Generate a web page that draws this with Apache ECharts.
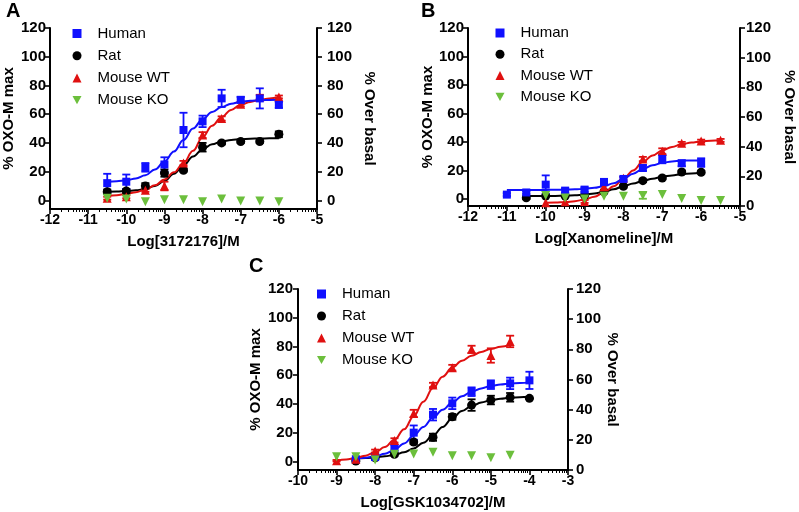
<!DOCTYPE html>
<html><head><meta charset="utf-8">
<script src="https://cdn.jsdelivr.net/npm/echarts@6/dist/echarts.min.js"></script>
<style>html,body{margin:0;padding:0;background:#fff}#c{width:799px;height:512px}</style>
</head><body><div id="c"></div>
<script>
// ---------- DATA ----------
const legendNames = ['Human', 'Rat', 'Mouse WT', 'Mouse KO'];
const yTickLabels = [0, 20, 40, 60, 80, 100, 120];

// Panel A : Log[3172176]/M
const A_x = [-10.5, -10, -9.5, -9, -8.5, -8, -7.5, -7, -6.5, -6];
const A_human = [12, 13, 23, 25, 49, 55, 71, 70, 71, 66.5];
const A_humanErr = [6.5, 5, 3, 5, 12, 4, 6, 2, 7, 2];
const A_rat = [6, 6.5, 10, 19, 21, 37, 40, 41, 41, 46];
const A_ratErr = [1.5, 1.5, 2, 2.5, 1, 3, 1, 1, 1, 2];
const A_wt = [1.5, 2.5, 7, 10, 26, 45.5, 57, 67, 72, 72];
const A_wtErr = [1, 1, 1, 3, 1.5, 2, 1.5, 1.5, 1.5, 1];
const A_ko = [1.5, 1, -1, 0.5, 0.5, -1, 1, -0.5, -0.5, -1];
const A_fitX = [-10.5, -10.25, -10, -9.75, -9.5, -9.25, -9, -8.75, -8.5, -8.25, -8, -7.75, -7.5, -7.25, -7, -6.75, -6.5, -6.25, -6];
const A_fitHuman = [13, 13.4, 14, 15.3, 17.5, 21.5, 27, 34, 42, 50, 56.5, 61.5, 65, 67.3, 68.6, 69.3, 69.7, 69.9, 70];
const A_fitRat = [6, 6.2, 6.5, 7, 8, 10, 13.5, 18.5, 24.5, 30.5, 35.5, 39, 41, 42.1, 42.6, 42.9, 43.1, 43.2, 43.3];
const A_fitWt = [3, 3.6, 4.5, 5.7, 7.5, 10.5, 14.5, 19.5, 26, 34.5, 44, 52, 58, 63, 66.5, 68.5, 70, 71, 72];

// Panel B : Log[Xanomeline]/M
const B_humanX = [-11, -10.5, -10, -9.5, -9, -8.5, -8, -7.5, -7, -6.5, -6];
const B_human = [3, 4.5, 10, 5.8, 6.5, 11.9, 14, 21.7, 28, 25, 25.5];
const B_humanErr = [1, 1, 6.5, 1.5, 1.5, 2, 1.5, 2, 3, 2, 3];
const B_ratX = [-10.5, -10, -9.5, -9, -8.5, -8, -7.5, -7, -6.5, -6];
const B_rat = [0.8, 2, 2, 2.5, 5, 8.9, 12.8, 14.7, 18.9, 18.7];
const B_ratErr = [1, 0, 0, 0, 1, 1, 1, 1, 1, 1];
const B_wtX = [-10, -9.5, -9, -8.5, -8, -7.5, -7, -6.5, -6, -5.5];
const B_wt = [-2.8, -2, -1.8, 8.5, 14.5, 28, 33.5, 39, 40.6, 41.1];
const B_wtErr = [0, 0, 1, 3, 1, 1.5, 2, 1, 1, 1];
const B_koX = [-10, -9.5, -9, -8.5, -8, -7.5, -7, -6.5, -6, -5.5];
const B_ko = [2.3, 0.7, 0, 1.8, 1.8, 2.3, 3, 0.2, -1.2, -1.2];
const B_koErr = [0, 0, 0, 0, 0, 2.2, 0, 0, 0, 0];
const B_fitHumanX = [-11, -10.75, -10.5, -10.25, -10, -9.75, -9.5, -9.25, -9, -8.75, -8.5, -8.25, -8, -7.75, -7.5, -7.25, -7, -6.75, -6.5, -6.25, -6];
const B_fitHuman = [6.2, 6.2, 6.2, 6.2, 6.3, 6.4, 6.5, 6.7, 7, 7.8, 9, 11, 14, 17.7, 21, 23.6, 25.3, 26.3, 26.8, 27, 27];
const B_fitRatX = [-10.5, -10.25, -10, -9.75, -9.5, -9.25, -9, -8.75, -8.5, -8.25, -8, -7.75, -7.5, -7.25, -7, -6.75, -6.5, -6.25, -6];
const B_fitRat = [2, 2, 2.05, 2.1, 2.3, 2.6, 3, 3.8, 5, 6.8, 8.8, 10.8, 12.6, 14.2, 15.5, 16.5, 17.3, 17.9, 18.3];
const B_fitWtX = [-10, -9.75, -9.5, -9.25, -9, -8.75, -8.5, -8.25, -8, -7.75, -7.5, -7.25, -7, -6.75, -6.5, -6.25, -6, -5.75, -5.5];
const B_fitWt = [-2.8, -2.6, -2.3, -1.6, -0.5, 1.5, 4.5, 8.8, 14, 20, 26, 30.5, 34, 36.5, 38.3, 39.6, 40.4, 40.9, 41.2];

// Panel C : Log[GSK1034702]/M
const C_humanX = [-8.5, -8, -7.5, -7, -6.5, -6, -5.5, -5, -4.5, -4];
const C_human = [1.5, 3, 9.5, 20, 32.5, 40.4, 48.5, 53.4, 54.3, 56.4];
const C_humanErr = [1, 1, 2, 5, 4, 4, 3, 3, 4, 6];
const C_ratX = [-8.5, -8, -7.5, -7, -6.5, -6, -5.5, -5, -4.5, -4];
const C_rat = [0.2, 2.5, 5, 13.5, 16.8, 31, 39.2, 42.7, 44.6, 43.9];
const C_ratErr = [1, 1, 1, 1.5, 2.5, 2, 4, 3, 3, 0.5];
const C_wtX = [-9, -8.5, -8, -7.5, -7, -6.5, -6, -5.5, -5, -4.5];
const C_wt = [0.5, 1.4, 7.2, 14.6, 33.4, 53.2, 65.2, 78, 73.7, 83.5];
const C_wtErr = [0.5, 1, 1, 1.5, 2.5, 1.5, 2, 2.5, 5, 4];
const C_koX = [-9, -8.5, -8, -7.5, -7, -6.5, -6, -5.5, -5, -4.5];
const C_ko = [3.3, 3.3, 1, 4.9, 5.1, 6.3, 4, 4, 2.5, 4.2];
const C_fitWtX = [-9, -8.75, -8.5, -8.25, -8, -7.75, -7.5, -7.25, -7, -6.75, -6.5, -6.25, -6, -5.75, -5.5, -5.25, -5, -4.75, -4.5];
const C_fitWt = [0.5, 1.3, 2.4, 4, 6.3, 10, 15, 22.3, 31.5, 41.5, 51, 59, 65.3, 70, 73.5, 76.2, 78.3, 79.8, 81];
const C_fitX = [-8.5, -8.25, -8, -7.75, -7.5, -7.25, -7, -6.75, -6.5, -6.25, -6, -5.75, -5.5, -5.25, -5, -4.75, -4.5, -4.25, -4];
const C_fitHuman = [1.8, 2.5, 3.5, 5.3, 8, 12.5, 18, 24, 30.5, 36, 41, 45.3, 48.5, 50.8, 52.5, 53.5, 54.2, 54.6, 55];
const C_fitRat = [2, 2.3, 2.8, 3.5, 4.5, 6.3, 9, 13, 18, 24, 30, 35, 38.5, 41, 42.5, 43.6, 44.3, 44.7, 45];

// ---------- STYLE ----------
const FONT = 'Liberation Sans, Arial, Helvetica, sans-serif';
const COL = { 'Human': '#1010ff', 'Rat': '#000000', 'Mouse WT': '#e01010', 'Mouse KO': '#6cbf3c' };
const SYM = { 'Human': ['rect', 8, 0], 'Rat': ['circle', 9, 0], 'Mouse WT': ['triangle', 9, 0], 'Mouse KO': ['triangle', 9, 180] };

const zip = (xs, ys) => xs.map((x, i) => [x, ys[i]]);
const zip3 = (xs, ys, es) => xs.map((x, i) => [x, ys[i], es[i]]).filter(d => d[2] > 0);

function minorTicks(min, max) {
  const out = [];
  for (let n = min; n < max; n++) for (let k = 2; k <= 9; k++) out.push(n + Math.log10(k));
  return out;
}

const panels = [
  { label: 'A', labelPos: [6, 1], grid: { left: 49, top: 28, width: 268, height: 181 },
    xMin: -12, xMax: -5, yLeftMin: -6, yRightMin: -6, xName: 'Log[3172176]/M',
    leftGap: 34, rightGap: 45, leftMargin: 4, rightMargin: 10, legendPos: [72.5, 26], legendGap: 7.2,
    sets: [
      { name: 'Rat', x: A_x, y: A_rat, err: A_ratErr, fx: A_fitX, fy: A_fitRat },
      { name: 'Mouse WT', x: A_x, y: A_wt, err: A_wtErr, fx: A_fitX, fy: A_fitWt },
      { name: 'Human', x: A_x, y: A_human, err: A_humanErr, fx: A_fitX, fy: A_fitHuman },
      { name: 'Mouse KO', x: A_x, y: A_ko }
    ] },
  { label: 'B', labelPos: [421, 1], grid: { left: 468, top: 28, width: 272, height: 178 },
    xMin: -12, xMax: -5, yLeftMin: -5, yRightMin: 0, xName: 'Log[Xanomeline]/M',
    leftGap: 31, rightGap: 42, leftMargin: 4, rightMargin: 6, legendPos: [495.5, 25.5], legendGap: 6.3,
    sets: [
      { name: 'Rat', x: B_ratX, y: B_rat, err: B_ratErr, fx: B_fitRatX, fy: B_fitRat },
      { name: 'Mouse WT', x: B_wtX, y: B_wt, err: B_wtErr, fx: B_fitWtX, fy: B_fitWt },
      { name: 'Human', x: B_humanX, y: B_human, err: B_humanErr, fx: B_fitHumanX, fy: B_fitHuman },
      { name: 'Mouse KO', x: B_koX, y: B_ko, err: B_koErr }
    ] },
  { label: 'C', labelPos: [249, 256], grid: { left: 298, top: 289, width: 270, height: 181 },
    xMin: -10, xMax: -3, yLeftMin: -6, yRightMin: 0, xName: 'Log[GSK1034702]/M',
    leftGap: 35, rightGap: 36, leftMargin: 5, rightMargin: 8, legendPos: [317, 286.5], legendGap: 7,
    sets: [
      { name: 'Rat', x: C_ratX, y: C_rat, err: C_ratErr, fx: C_fitX, fy: C_fitRat },
      { name: 'Human', x: C_humanX, y: C_human, err: C_humanErr, fx: C_fitX, fy: C_fitHuman },
      { name: 'Mouse WT', x: C_wtX, y: C_wt, err: C_wtErr, fx: C_fitWtX, fy: C_fitWt },
      { name: 'Mouse KO', x: C_koX, y: C_ko }
    ] }
];

// ---------- OPTION ----------
const option = { animation: false, backgroundColor: '#fff', textStyle: { fontFamily: FONT },
  title: [], grid: [], xAxis: [], yAxis: [], legend: [], series: [] };

const axisLineStyle = { color: '#000', width: 2 };
const tickStyle = { color: '#000', width: 1.6 };
const xLabelStyle = { color: '#000', fontSize: 14, fontWeight: 'bold', fontFamily: FONT };
const yLabelStyle = { color: '#000', fontSize: 15, fontWeight: 'bold', fontFamily: FONT };
const nameStyle = { color: '#000', fontSize: 15, fontWeight: 'bold', fontFamily: FONT };

panels.forEach((p, i) => {
  option.title.push({ text: p.label, left: p.labelPos[0], top: p.labelPos[1], padding: 0,
    textStyle: { fontSize: 20, fontWeight: 'bold', color: '#000', fontFamily: FONT } });
  option.grid.push(Object.assign({ containLabel: false }, p.grid));
  option.xAxis.push({ gridIndex: i, type: 'value', position: 'bottom', min: p.xMin, max: p.xMax, interval: 1,
    name: p.xName, nameLocation: 'middle', nameGap: 25, nameTextStyle: nameStyle,
    axisLine: { show: true, onZero: false, lineStyle: axisLineStyle },
    axisTick: { show: true, inside: false, length: 5, lineStyle: tickStyle },
    axisLabel: { show: true, margin: 4, ...xLabelStyle }, splitLine: { show: false } });
  option.xAxis.push({ gridIndex: i, type: 'value', position: 'bottom', min: p.xMin, max: p.xMax,
    axisLine: { show: false, onZero: false }, axisLabel: { show: false }, splitLine: { show: false },
    axisTick: { show: true, inside: false, length: 3, customValues: minorTicks(p.xMin, p.xMax), lineStyle: { color: '#000', width: 1 } } });
  option.yAxis.push({ gridIndex: i, type: 'value', position: 'left', min: p.yLeftMin, max: 120,
    name: '% OXO-M max', nameLocation: 'middle', nameGap: p.leftGap, nameRotate: 90, nameTextStyle: nameStyle,
    axisLine: { show: true, onZero: false, lineStyle: axisLineStyle },
    axisTick: { show: true, inside: false, length: 5, customValues: yTickLabels, lineStyle: tickStyle },
    axisLabel: { show: true, margin: p.leftMargin, customValues: yTickLabels, ...yLabelStyle }, splitLine: { show: false } });
  option.yAxis.push({ gridIndex: i, type: 'value', position: 'right', min: p.yRightMin, max: 120,
    name: '% Over basal', nameLocation: 'middle', nameGap: p.rightGap, nameRotate: -90, nameTextStyle: nameStyle,
    axisLine: { show: true, onZero: false, lineStyle: axisLineStyle },
    axisTick: { show: true, inside: false, length: 5, customValues: yTickLabels, lineStyle: tickStyle },
    axisLabel: { show: true, margin: p.rightMargin, customValues: yTickLabels, ...yLabelStyle }, splitLine: { show: false } });

  option.legend.push({ orient: 'vertical', left: p.legendPos[0], top: p.legendPos[1], padding: 0,
    itemWidth: 9, itemHeight: 9, itemGap: p.legendGap, selectedMode: false,
    textStyle: { fontSize: 15, color: '#000', fontFamily: FONT, lineHeight: 15, padding: [0, 0, 0, 11] },
    data: [
      { name: 'Human', icon: 'rect' },
      { name: 'Rat', icon: 'circle' },
      { name: 'Mouse WT', icon: 'triangle' },
      { name: 'Mouse KO', icon: 'path://M0,0L10,0L5,9Z' }
    ] });

  const xi = 2 * i, yi = 2 * i;
  p.sets.forEach(s => {
    const c = COL[s.name];
    if (s.fx) {
      option.series.push({ type: 'line', name: s.name + ' fit', xAxisIndex: xi, yAxisIndex: yi,
        data: zip(s.fx, s.fy), smooth: 0.4, smoothMonotone: 'x', showSymbol: false, symbol: 'none',
        lineStyle: { color: c, width: 2 }, itemStyle: { color: c }, z: 2, silent: true });
    }
  });
  p.sets.forEach(s => {
    const c = COL[s.name];
    if (s.err) {
      option.series.push({ type: 'custom', name: s.name + ' err', xAxisIndex: xi, yAxisIndex: yi,
        data: zip3(s.x, s.y, s.err), encode: { x: 0, y: 1 }, z: 3, silent: true,
        renderItem: (params, api) => {
          const x = api.value(0), y = api.value(1), e = api.value(2);
          const t = api.coord([x, y + e]), b = api.coord([x, y - e]);
          const hw = 4;
          const st = { stroke: c, lineWidth: 1.8, fill: null };
          return { type: 'group', children: [
            { type: 'line', shape: { x1: t[0], y1: t[1], x2: b[0], y2: b[1] }, style: st },
            { type: 'line', shape: { x1: t[0] - hw, y1: t[1], x2: t[0] + hw, y2: t[1] }, style: st },
            { type: 'line', shape: { x1: b[0] - hw, y1: b[1], x2: b[0] + hw, y2: b[1] }, style: st }
          ] };
        } });
    }
    const sym = SYM[s.name];
    option.series.push({ type: 'scatter', name: s.name, xAxisIndex: xi, yAxisIndex: yi,
      data: zip(s.x, s.y), symbol: sym[0], symbolSize: sym[1], symbolRotate: sym[2],
      itemStyle: { color: c, opacity: 1 }, z: 4, silent: true });
  });
});

const chart = echarts.init(document.getElementById('c'), null, { renderer: 'canvas' });
chart.setOption(option);
</script>
</body></html>
